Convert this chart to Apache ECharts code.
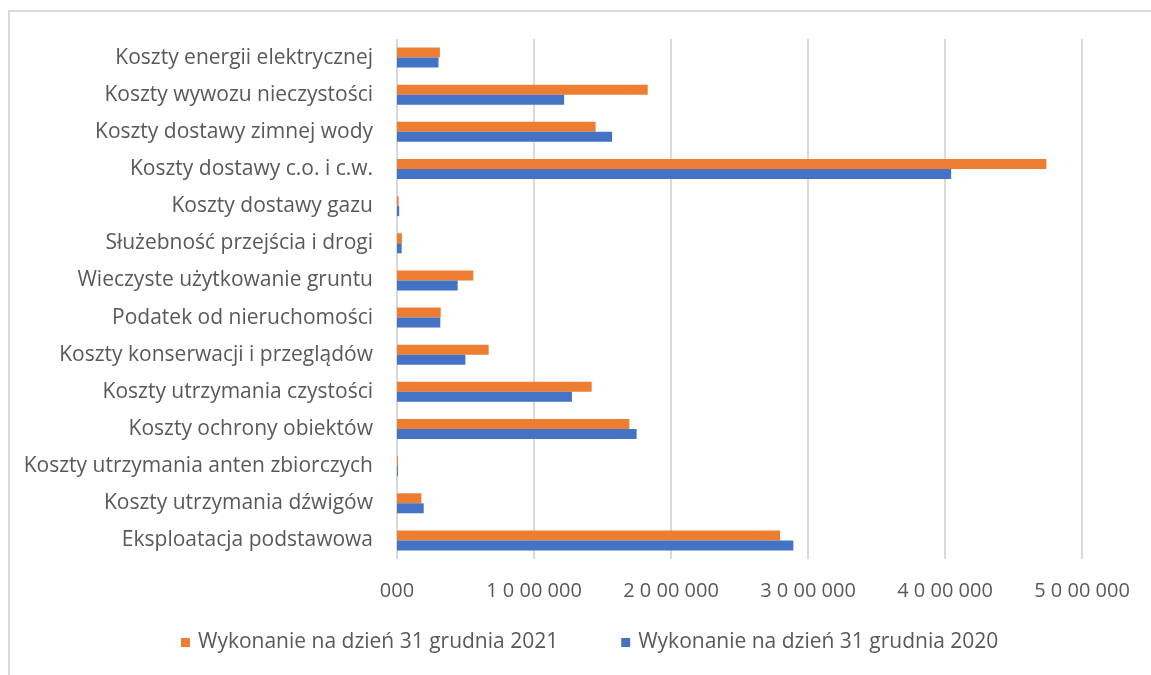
<!DOCTYPE html>
<html>
<head>
<meta charset="utf-8">
<script src="https://cdn.jsdelivr.net/npm/echarts@6/dist/echarts.min.js"></script>
<style>
  html, body { margin: 0; padding: 0; background: #fff; overflow: hidden; }
  #frame { position: absolute; left: 8px; top: 10px; width: 1300px; height: 800px;
           border: 2px solid #d9d9d9; box-sizing: border-box; }
  #chart { position: absolute; left: 0; top: 0; width: 1151px; height: 675px; }
</style>
</head>
<body>
<div id="frame"></div>
<div id="chart"></div>
<script>
// Categories from top to bottom, as shown
const categories = [
  'Koszty energii elektrycznej',
  'Koszty wywozu nieczystości',
  'Koszty dostawy zimnej wody',
  'Koszty dostawy c.o. i c.w.',
  'Koszty dostawy gazu',
  'Służebność przejścia i drogi',
  'Wieczyste użytkowanie gruntu',
  'Podatek od nieruchomości',
  'Koszty konserwacji i przeglądów',
  'Koszty utrzymania czystości',
  'Koszty ochrony obiektów',
  'Koszty utrzymania anten zbiorczych',
  'Koszty utrzymania dźwigów',
  'Eksploatacja podstawowa',
];

const values2021 = [
  313000, 1830000, 1450000, 4740000, 12000, 36000, 557000,
  319000, 669000, 1421000, 1696000, 7000, 178000, 2796000,
];
const values2020 = [
  303000, 1220000, 1570000, 4045000, 16000, 34000, 443000,
  316000, 499000, 1277000, 1749000, 7000, 195000, 2893000,
];

const tickLabels = ['000', '1 0 00 000', '2 0 00 000', '3 0 00 000', '4 0 00 000', '5 0 00 000'];
const seriesNames = ['Wykonanie na dzień 31 grudnia 2021', 'Wykonanie na dzień 31 grudnia 2020'];

const FONT = "'Open Sans', Lato, sans-serif";
const TEXT = '#595959';

const chart = echarts.init(document.getElementById('chart'));
chart.setOption({
  animation: false,
  textStyle: { fontFamily: FONT },
  grid: { left: 397, right: 69, top: 39, bottom: 116, containLabel: false },
  legend: {
    bottom: 22,
    left: 181,
    padding: 0,
    itemWidth: 9,
    itemHeight: 9,
    itemGap: 63,
    icon: 'rect',
    textStyle: { fontSize: 21, color: TEXT, fontFamily: FONT, padding: [0, 0, 0, 3] },
    data: seriesNames,
  },
  xAxis: {
    type: 'value',
    min: 0,
    max: 5000000,
    interval: 1000000,
    axisLine: { show: false },
    axisTick: { show: false },
    splitLine: { show: true, lineStyle: { color: '#d9d9d9', width: 2 } },
    axisLabel: {
      margin: 22,
      fontSize: 20,
      color: TEXT,
      formatter: (v) => tickLabels[Math.round(v / 1000000)],
    },
  },
  yAxis: {
    type: 'category',
    inverse: true,
    data: categories,
    axisLine: { show: false },
    axisTick: { show: false },
    axisLabel: { margin: 24, fontSize: 21, color: TEXT },
  },
  series: [
    {
      name: seriesNames[0], type: 'bar', data: values2021,
      barWidth: 10, barGap: '0%',
      itemStyle: { color: '#ED7D31' },
    },
    {
      name: seriesNames[1], type: 'bar', data: values2020,
      barWidth: 10, barGap: '0%',
      itemStyle: { color: '#4472C4' },
    },
  ],
});
</script>
</body>
</html>
